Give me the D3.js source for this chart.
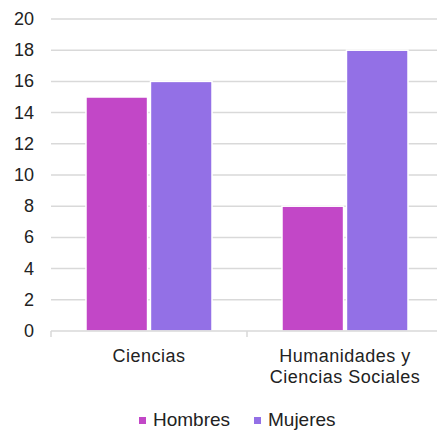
<!DOCTYPE html>
<html>
<head>
<meta charset="utf-8">
<script src="https://cdn.jsdelivr.net/npm/d3@7"></script>
<style>
  body { margin: 0; background: #fff; }
  svg { font-family: "Liberation Sans", Arial, sans-serif; }
</style>
</head>
<body>
<script>
// chart data
var categories = [["Ciencias"], ["Humanidades y", "Ciencias Sociales"]];
var seriesNames = ["Hombres", "Mujeres"];
var hombres = [15, 8];
var mujeres = [16, 18];
var yTicks = [0, 2, 4, 6, 8, 10, 12, 14, 16, 18, 20];
var colours = ["#c247c7", "#9370e6"];

var width = 437, height = 430;
var svg = d3.select("body").append("svg")
    .attr("width", width)
    .attr("height", height);

var pad = {left: 51, top: 19, bottom: 331, right: 443};

var keys = categories.map(function(d){ return d.join(" "); });
var xScale = d3.scaleBand().domain(keys).range([pad.left, pad.right]);
// inner band: bars sit 35px in from each side of the category
var inner = d3.scaleBand().domain(seriesNames)
    .range([35, xScale.bandwidth() - 35])
    .paddingInner(0.045).paddingOuter(0);
var yScale = d3.scaleLinear().domain([0, 20]).range([pad.bottom, pad.top]);

// gridlines
svg.append("g").selectAll("line")
   .data(yTicks.slice(1)).enter()
   .append("line")
   .attr("x1", pad.left).attr("x2", pad.right)
   .attr("y1", function(d){ return yScale(d); })
   .attr("y2", function(d){ return yScale(d); })
   .style("stroke", "#d9d9d9")
   .style("stroke-width", 1.5);

// y labels
svg.append("g").selectAll("text")
   .data(yTicks).enter()
   .append("text")
   .attr("x", 34)
   .attr("y", function(d){ return yScale(d) + 6; })
   .attr("text-anchor", "end")
   .style("font-size", "18px")
   .style("fill", "#222")
   .text(function(d){ return d; });

// bars
var rows = keys.map(function(k, i){ return {key: k, vals: [hombres[i], mujeres[i]]}; });
var groups = svg.append("g").selectAll("g")
   .data(rows).enter()
   .append("g")
   .attr("transform", function(d){ return "translate(" + xScale(d.key) + ",0)"; });

groups.selectAll("rect")
   .data(function(d){ return d.vals.map(function(v, i){ return {name: seriesNames[i], v: v, i: i}; }); })
   .enter()
   .append("rect")
   .attr("x", function(d){ return inner(d.name); })
   .attr("width", inner.bandwidth())
   .attr("y", function(d){ return yScale(d.v); })
   .attr("height", function(d){ return yScale(0) - yScale(d.v); })
   .style("fill", function(d){ return colours[d.i]; })
   .style("stroke", "#fff")
   .style("stroke-width", 1.5);

// x axis line and ticks
svg.append("line")
   .attr("x1", pad.left).attr("x2", pad.right)
   .attr("y1", pad.bottom).attr("y2", pad.bottom)
   .style("stroke", "#d9d9d9").style("stroke-width", 1.5);
svg.append("g").selectAll("line")
   .data([pad.left, pad.left + xScale.bandwidth(), pad.right]).enter()
   .append("line")
   .attr("x1", function(d){ return d; }).attr("x2", function(d){ return d; })
   .attr("y1", pad.bottom).attr("y2", pad.bottom + 6)
   .style("stroke", "#d9d9d9").style("stroke-width", 1.5);

// category labels
var catLabels = svg.append("g").selectAll("text")
   .data(categories).enter()
   .append("text")
   .attr("text-anchor", "middle")
   .style("font-size", "18px")
   .style("letter-spacing", "0.5px")
   .style("fill", "#222")
   .attr("x", function(d){ return xScale(d.join(" ")) + xScale.bandwidth() / 2; })
   .attr("y", 362);
catLabels.selectAll("tspan")
   .data(function(d){ return d; }).enter()
   .append("tspan")
   .attr("x", function(){ return d3.select(this.parentNode).attr("x"); })
   .attr("dy", function(d, i){ return i == 0 ? 0 : 21; })
   .text(function(d){ return d; });

// legend
var legendX = [139, 254];
var legend = svg.append("g").selectAll("g")
   .data(seriesNames).enter()
   .append("g")
   .attr("transform", function(d, i){ return "translate(" + legendX[i] + ",426)"; });
legend.append("rect")
   .attr("x", 0).attr("y", -9)
   .attr("width", 7).attr("height", 7)
   .style("fill", function(d, i){ return colours[i]; });
legend.append("text")
   .attr("x", 14).attr("y", 0)
   .style("font-size", "19px")
   .style("fill", "#222")
   .text(function(d){ return d; });
</script>
</body>
</html>
